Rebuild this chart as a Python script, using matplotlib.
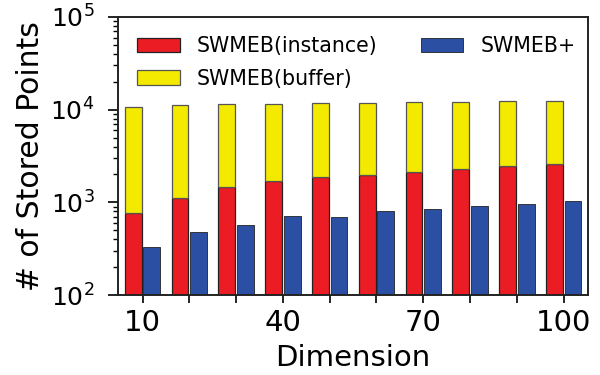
import matplotlib
matplotlib.use("Agg")
import matplotlib.pyplot as plt
import numpy as np

# ── Data ──────────────────────────────────────────────────────────────────────
dimensions = [10, 20, 30, 40, 50, 60, 70, 80, 90, 100]
swmeb_instance = [770, 1110, 1460, 1690, 1880, 1990, 2130, 2310, 2470, 2590]
swmeb_buffer = [9920, 10030, 9970, 9920, 9820, 9900, 9870, 9880, 9830, 9910]
swmeb_plus = [327, 478, 565, 712, 695, 813, 854, 913, 959, 1042]
tick_labels = ["10", "", "", "40", "", "", "70", "", "", "100"]

RED = "#ec1c24"
YELLOW = "#f4ea00"
BLUE = "#2a4fa3"

plt.rcParams["font.family"] = "DejaVu Sans"


def main():
    fig = plt.figure(figsize=(6, 3.75), dpi=100)
    ax = fig.add_axes([0.197, 0.2133, 0.783, 0.7414])

    x = np.arange(len(dimensions))
    w = 0.36
    ax.bar(x - 0.2, swmeb_instance, w, color=RED, edgecolor="#222222",
           linewidth=0.9, label="SWMEB(instance)", zorder=2)
    ax.bar(x - 0.2, swmeb_buffer, w, bottom=swmeb_instance, color=YELLOW,
           edgecolor="#555555", linewidth=0.9, label="SWMEB(buffer)", zorder=2)
    ax.bar(x + 0.2, swmeb_plus, w, color=BLUE, edgecolor="#222222",
           linewidth=0.6, label="SWMEB+", zorder=2)

    ax.set_yscale("log")
    ax.set_ylim(1e2, 1e5)
    ax.set_xlim(-0.52, 9.52)
    ax.set_xticks(x)
    ax.set_xticklabels(tick_labels)

    ax.tick_params(axis="x", which="major", labelsize=21, length=6,
                   width=1.2, pad=4)
    ax.tick_params(axis="y", which="major", labelsize=18, length=7,
                   width=1.2, pad=10)
    ax.tick_params(axis="y", which="minor", length=3.5, width=1.0)
    ax.tick_params(top=False, right=False, which="both")
    for s in ax.spines.values():
        s.set_linewidth(1.4)
        s.set_color("#222222")

    ax.set_xlabel("Dimension", fontsize=21, labelpad=5)
    ax.set_ylabel("# of Stored Points", fontsize=21.5, labelpad=4)

    h, l = ax.get_legend_handles_labels()
    ax.legend(h, l, ncol=2,
              loc="upper left", bbox_to_anchor=(0.04, 0.931),
              frameon=False, fontsize=14.8, handlelength=2.07,
              handleheight=0.73, handletextpad=0.85, columnspacing=2.1,
              labelspacing=0.6, borderpad=0, borderaxespad=0)

    fig.savefig("out.png", dpi=100)


if __name__ == "__main__":
    main()
